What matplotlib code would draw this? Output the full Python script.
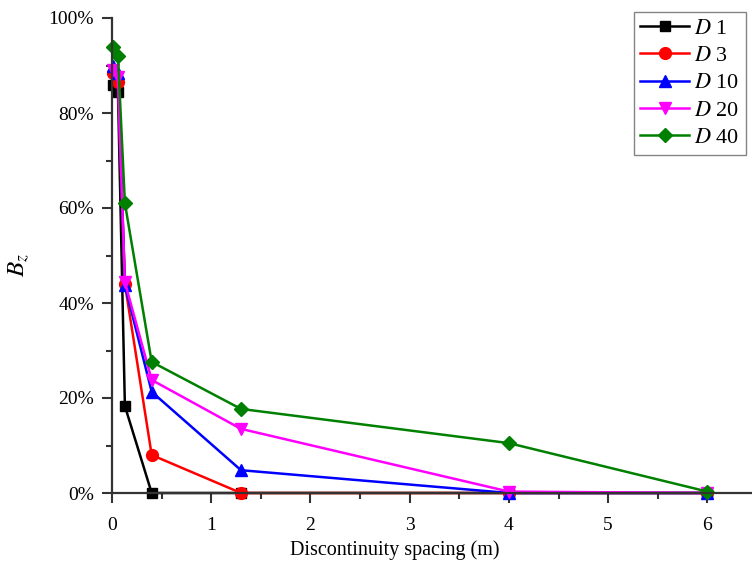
import numpy as np
import matplotlib
matplotlib.use('Agg')
import matplotlib.pyplot as plt
from matplotlib.ticker import MultipleLocator, PercentFormatter

plt.rcParams['font.family'] = ['Liberation Serif', 'DejaVu Serif']
plt.rcParams['mathtext.fontset'] = 'stix'

# discontinuity spacing (m)
spacing = [0.01, 0.06, 0.13, 0.4, 1.3, 4.0, 6.0]

# B_z values (%) for each D
bz_d1 = [86.0, 84.5, 18.3, 0.0, 0.0, 0.0, 0.0]
bz_d3 = [88.5, 86.5, 44.0, 8.0, 0.0, 0.0, 0.0]
bz_d10 = [90.0, 88.5, 43.7, 21.3, 4.8, 0.0, 0.0]
bz_d20 = [89.0, 87.5, 44.4, 23.8, 13.5, 0.3, 0.0]
bz_d40 = [94.0, 92.0, 61.0, 27.6, 17.7, 10.5, 0.3]

labels = ['$D$ 1', '$D$ 3', '$D$ 10', '$D$ 20', '$D$ 40']
series = [bz_d1, bz_d3, bz_d10, bz_d20, bz_d40]
colors = ['black', 'red', 'blue', 'magenta', 'green']
markers = ['s', 'o', '^', 'v', 'D']
msizes = [7.5, 8.5, 8.5, 8.5, 7.5]

fig = plt.figure(figsize=(7.52, 5.74), dpi=100)
ax = fig.add_axes([112 / 752, 1 - 493 / 574, 1 - 112 / 752, 475 / 574])

for vals, lab, c, m, ms in zip(series, labels, colors, markers, msizes):
    ax.plot(spacing, vals, color=c, marker=m, markersize=ms, lw=1.8,
            label=lab, clip_on=False)

ax.set_xlim(0, 6.45)
ax.set_ylim(0, 100)
ax.xaxis.set_major_locator(MultipleLocator(1))
ax.xaxis.set_minor_locator(MultipleLocator(0.5))
ax.yaxis.set_major_locator(MultipleLocator(20))
ax.yaxis.set_minor_locator(MultipleLocator(10))
ax.yaxis.set_major_formatter(PercentFormatter(decimals=0))

for s in ['top', 'right']:
    ax.spines[s].set_visible(False)
for s in ['left', 'bottom']:
    ax.spines[s].set_linewidth(1.6)
    ax.spines[s].set_color('#333333')

ax.tick_params(which='major', direction='out', length=7, width=1.5,
               color='#333333', labelsize=14, pad=6)
ax.tick_params(axis='x', which='major', pad=10)
ax.tick_params(which='minor', direction='out', length=4, width=1.5,
               color='#333333')

ax.set_xlabel('Discontinuity spacing (m)', fontsize=14.5)
ax.xaxis.set_label_coords((395 - 112) / 640, -0.1)
ax.set_ylabel('$B_z$', fontsize=18)
ax.yaxis.set_label_coords(-0.125, 0.48)

leg = ax.legend(loc='upper right', bbox_to_anchor=(0.99, 1.013), fontsize=16,
                frameon=True, fancybox=False, edgecolor='#666666',
                handlelength=2.2, handletextpad=0.2, borderpad=0.3,
                labelspacing=0.3, borderaxespad=0)
leg.get_frame().set_linewidth(1.0)

fig.savefig('out.png', dpi=100)
